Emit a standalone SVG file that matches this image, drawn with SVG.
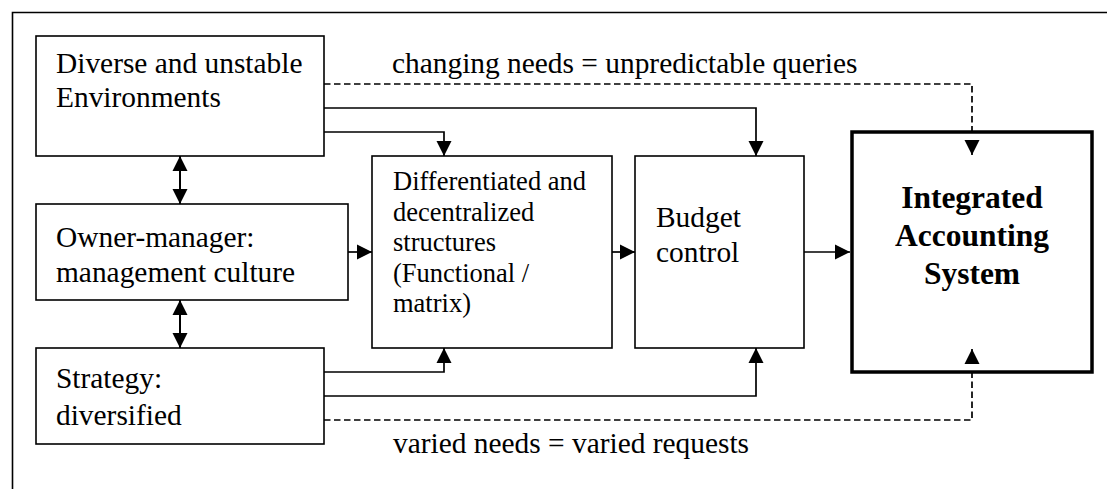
<svg xmlns="http://www.w3.org/2000/svg" width="1107" height="489" viewBox="0 0 1107 489">
<defs>
<marker id="arr" markerUnits="userSpaceOnUse" markerWidth="16" markerHeight="16" refX="15" refY="8" orient="auto-start-reverse" viewBox="0 0 16 16">
<path d="M0,0.5 L15,8 L0,15.5 z" fill="#000"/>
</marker>
<style>
.box{fill:#fff;stroke:#000;stroke-width:1.6}
.main{fill:none;stroke:#000;stroke-width:3.5}
text{font-family:'Liberation Serif','Times New Roman','DejaVu Serif',serif;font-size:29.4px;fill:#000}
.s{font-size:26.5px}
.b{font-weight:bold;font-size:31.5px;text-anchor:middle}
.c{fill:none;stroke:#000;stroke-width:1.7;marker-end:url(#arr)}
.d{fill:none;stroke:#000;stroke-width:1.7;stroke-dasharray:6.5,3.5;marker-end:url(#arr)}
.dbl{fill:none;stroke:#000;stroke-width:2;marker-start:url(#arr);marker-end:url(#arr)}
</style>
</defs>
<rect width="1107" height="489" fill="#fff"/>
<path d="M12.5,489 V12.5 H1107" fill="none" stroke="#000" stroke-width="1.6"/>

<g id="environments">
<rect class="box" x="36" y="36" width="288" height="120"/>
<text x="56" y="73" font-family="Liberation Serif">Diverse and unstable</text>
<text x="56" y="107" font-family="Liberation Serif">Environments</text>
</g>

<g id="owner-manager">
<rect class="box" x="36" y="204" width="312" height="96"/>
<text x="56" y="247" font-family="Liberation Serif">Owner-manager:</text>
<text x="56" y="282" font-family="Liberation Serif">management culture</text>
</g>

<g id="strategy">
<rect class="box" x="36" y="348" width="288" height="96"/>
<text x="56" y="388" font-family="Liberation Serif">Strategy:</text>
<text x="56" y="425" font-family="Liberation Serif">diversified</text>
</g>

<g id="structures">
<rect class="box" x="372" y="156" width="240" height="192"/>
<text class="s" x="393" y="190" font-family="Liberation Serif">Differentiated and</text>
<text class="s" x="393" y="221" font-family="Liberation Serif">decentralized</text>
<text class="s" x="393" y="251" font-family="Liberation Serif">structures</text>
<text class="s" x="393" y="282" font-family="Liberation Serif">(Functional /</text>
<text class="s" x="393" y="312" font-family="Liberation Serif">matrix)</text>
</g>

<g id="budget">
<rect class="box" x="635" y="156" width="169" height="192"/>
<text x="656" y="227" font-family="Liberation Serif">Budget</text>
<text x="656" y="262" font-family="Liberation Serif">control</text>
</g>

<g id="integrated">
<rect class="main" x="852" y="132" width="240" height="240"/>
<text class="b" x="972" y="208" font-family="Liberation Serif">Integrated</text>
<text class="b" x="972" y="246" font-family="Liberation Serif">Accounting</text>
<text class="b" x="972" y="284" font-family="Liberation Serif">System</text>
</g>

<g id="connectors">
<path class="d" d="M324,84 H972 V132 M972,153 V155"/>
<path class="d" d="M324,420 H972 V372 M972,351 V349"/>
<path class="c" d="M324,108 H756 V156"/>
<path class="c" d="M324,132 H444 V156"/>
<path class="c" d="M348,252 H372"/>
<path class="c" d="M612,252 H635"/>
<path class="c" d="M804,252 H850"/>
<path class="c" d="M324,372 H444 V348"/>
<path class="c" d="M324,396 H756 V348"/>
<path class="dbl" d="M180,156 V204"/>
<path class="dbl" d="M180,300 V348"/>
<text x="392" y="73" font-family="Liberation Serif">changing needs = unpredictable queries</text>
<text x="393" y="453" font-family="Liberation Serif">varied needs = varied requests</text>
</g>
</svg>
